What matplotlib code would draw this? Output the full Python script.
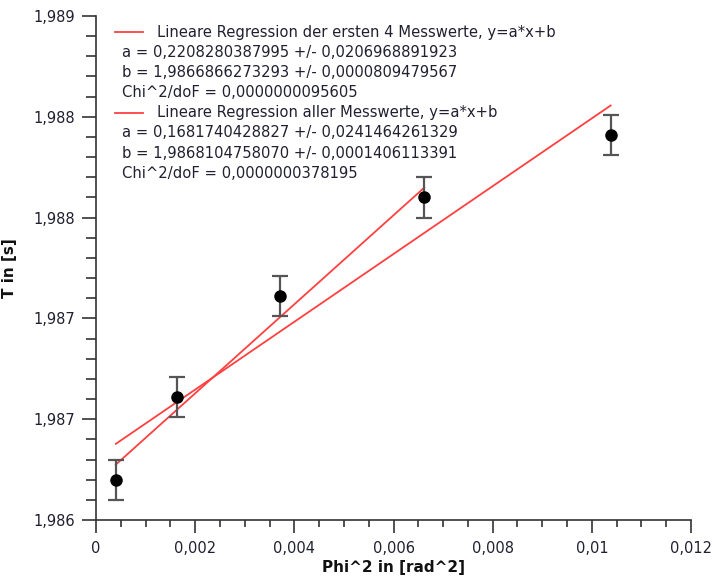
import math
import matplotlib
matplotlib.use('Agg')
import matplotlib.pyplot as plt
from matplotlib.ticker import MultipleLocator, FuncFormatter

# Messwerte
phi2 = [0.00040, 0.00163, 0.00371, 0.00662, 0.01038]
T = [1.98670, 1.98711, 1.98761, 1.98810, 1.98841]
T_err = [0.0001, 0.0001, 0.0001, 0.0001, 0.0001]

# Fit parameters (from the legend)
a1, b1 = 0.2208280387995, 1.9866866273293
a2, b2 = 0.1681740428827, 1.9868104758070

legend_lines = [
    ("Lineare Regression der ersten 4 Messwerte, y=a*x+b",
     ["a = 0,2208280387995 +/- 0,0206968891923",
      "b = 1,9866866273293 +/- 0,0000809479567",
      "Chi^2/doF = 0,0000000095605"]),
    ("Lineare Regression aller Messwerte, y=a*x+b",
     ["a = 0,1681740428827 +/- 0,0241464261329",
      "b = 1,9868104758070 +/- 0,0001406113391",
      "Chi^2/doF = 0,0000000378195"]),
]

red = '#ff4040'
txt = '#202030'

fig = plt.figure(figsize=(7.12, 5.77), dpi=100)
W, H = 712, 577
ax = fig.add_axes([96 / W, 1 - 520 / H, (691 - 96) / W, (520 - 16) / H])

# fit lines
x1 = phi2[:4]
ax.plot(x1, [a1 * x + b1 for x in x1], color=red, lw=1.3, zorder=3)
ax.plot(phi2, [a2 * x + b2 for x in phi2], color=red, lw=1.3, zorder=3)

# points with error bars
ax.errorbar(phi2, T, yerr=T_err, fmt='o', color='black', ms=8,
            ecolor='#555555', elinewidth=1.6, capsize=6, capthick=1.6, zorder=4)

ax.set_xlim(0, 0.012)
ax.set_ylim(1.9865, 1.989)
ax.xaxis.set_major_locator(MultipleLocator(0.002))
ax.xaxis.set_minor_locator(MultipleLocator(0.0005))
ax.yaxis.set_major_locator(MultipleLocator(0.0005))
ax.yaxis.set_minor_locator(MultipleLocator(0.0001))
ax.xaxis.set_major_formatter(FuncFormatter(lambda v, p: f"{v:g}".replace('.', ',')))
ax.yaxis.set_major_formatter(FuncFormatter(
    lambda v, p: f"{math.floor(v * 1000 + 1e-6) / 1000:.3f}".replace('.', ',')))

for s in ['top', 'right']:
    ax.spines[s].set_visible(False)
for s in ['left', 'bottom']:
    ax.spines[s].set_color('#333333')
    ax.spines[s].set_linewidth(1.2)

ax.tick_params(which='both', direction='out', color='#333333', width=1.2,
               labelcolor=txt, labelsize=10.5)
ax.tick_params(axis='y', which='major', length=10, pad=5)
ax.tick_params(axis='y', which='minor', length=7)
ax.tick_params(axis='x', which='major', length=9, pad=6)
ax.tick_params(axis='x', which='minor', length=5)

ax.set_xlabel('Phi^2 in [rad^2]', fontweight='bold', fontsize=11, color='#111111', labelpad=3)
ax.set_ylabel('T in [s]', fontweight='bold', fontsize=11, color='#111111', labelpad=12)

# legend drawn by hand
y = 1 - 32 / H
step = 20.2 / H
for title, rows in legend_lines:
    fig.add_artist(plt.Line2D([115 / W, 143 / W], [y, y], color=red, lw=1.3))
    fig.text(157 / W, y, title, fontsize=10.6, color=txt, va='center')
    y -= step
    for r in rows:
        fig.text(122 / W, y, r, fontsize=10.6, color=txt, va='center')
        y -= step

fig.savefig('out.png', dpi=100)
